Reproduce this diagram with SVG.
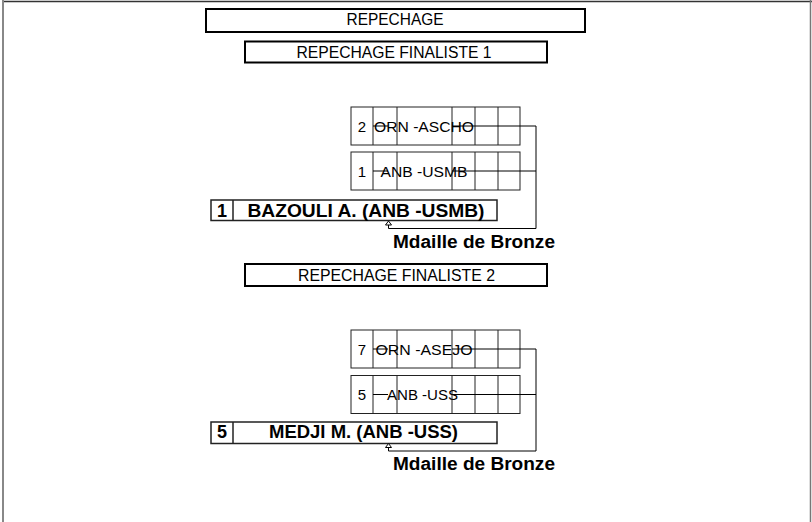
<svg xmlns="http://www.w3.org/2000/svg" width="812" height="522" viewBox="0 0 812 522">
<style>
  text { font-family: "Liberation Sans", Arial, sans-serif; fill: #000; }
  .t15 { font-size: 16px; }
  .t14 { font-size: 15px; }
  .b17 { font-size: 18px; font-weight: bold; }
  .hdr { fill: #fff; stroke: #000; stroke-width: 2; }
  .cell { fill: none; stroke: #222; stroke-width: 1; }
  .res { fill: #fff; stroke: #222; stroke-width: 1.5; }
  .conn { fill: none; stroke: #000; stroke-width: 1; }
  .arr { fill: #fff; stroke: #000; stroke-width: 1; }
</style>
<defs>
  <g id="grid">
    <rect class="cell" x="351" y="0" width="169" height="38"/>
    <line class="cell" x1="373" y1="0" x2="373" y2="38"/>
    <line class="cell" x1="397" y1="0" x2="397" y2="38"/>
    <line class="cell" x1="452" y1="0" x2="452" y2="38"/>
    <line class="cell" x1="475" y1="0" x2="475" y2="38"/>
    <line class="cell" x1="498" y1="0" x2="498" y2="38"/>
  </g>
</defs>
<rect x="0" y="0" width="812" height="522" fill="#fff"/>
<g id="frame">
  <line x1="2" y1="1.5" x2="812" y2="1.5" stroke="#333" stroke-width="1.5"/>
  <line x1="3" y1="0" x2="3" y2="522" stroke="#888" stroke-width="2"/>
  <line x1="810.5" y1="0" x2="810.5" y2="522" stroke="#777" stroke-width="1.5"/>
</g>
<g id="title">
  <rect class="hdr" x="206" y="9" width="379" height="23"/>
  <text class="t15" x="395" y="25" text-anchor="middle" textLength="97" lengthAdjust="spacingAndGlyphs">REPECHAGE</text>
</g>
<g id="header1">
  <rect class="hdr" x="245" y="41.5" width="302" height="21"/>
  <text class="t15" x="394" y="58" text-anchor="middle" textLength="195" lengthAdjust="spacingAndGlyphs">REPECHAGE FINALISTE 1</text>
</g>
<g id="f1-row1">
  <use href="#grid" y="107"/>
  <text class="t14" x="362" y="131.8" text-anchor="middle">2</text>
  <text class="t14" x="424" y="131.8" text-anchor="middle" textLength="100" lengthAdjust="spacingAndGlyphs">ORN -ASCHO</text>
</g>
<g id="f1-row2">
  <use href="#grid" y="152"/>
  <text class="t14" x="362" y="176.8" text-anchor="middle">1</text>
  <text class="t14" x="424" y="176.8" text-anchor="middle" textLength="87" lengthAdjust="spacingAndGlyphs">ANB -USMB</text>
</g>
<g id="f1-winner">
  <rect class="res" x="211" y="200" width="286" height="20.5"/>
  <line class="res" x1="233" y1="200" x2="233" y2="220.5"/>
  <text class="b17" x="222" y="216.5" text-anchor="middle">1</text>
  <text class="b17" x="366" y="216.5" text-anchor="middle" textLength="237" lengthAdjust="spacingAndGlyphs">BAZOULI A. (ANB -USMB)</text>
</g>
<g id="f1-medal">
  <text class="b17" x="474" y="247.5" text-anchor="middle" textLength="162" lengthAdjust="spacingAndGlyphs">Mdaille de Bronze</text>
</g>
<g id="header2">
  <rect class="hdr" x="245" y="264" width="302" height="22"/>
  <text class="t15" x="396.5" y="281" text-anchor="middle" textLength="197" lengthAdjust="spacingAndGlyphs">REPECHAGE FINALISTE 2</text>
</g>
<g id="f2-row1">
  <use href="#grid" y="330"/>
  <text class="t14" x="362" y="354.8" text-anchor="middle">7</text>
  <text class="t14" x="424" y="354.8" text-anchor="middle" textLength="97" lengthAdjust="spacingAndGlyphs">ORN -ASEJO</text>
</g>
<g id="f2-row2">
  <use href="#grid" y="375.5"/>
  <text class="t14" x="362" y="400" text-anchor="middle">5</text>
  <text class="t14" x="422.5" y="400" text-anchor="middle" textLength="71" lengthAdjust="spacingAndGlyphs">ANB -USS</text>
</g>
<g id="f2-winner">
  <rect class="res" x="211" y="422" width="286" height="21.5"/>
  <line class="res" x1="233" y1="422" x2="233" y2="443.5"/>
  <text class="b17" x="222" y="438.3" text-anchor="middle">5</text>
  <text class="b17" x="363.5" y="438.3" text-anchor="middle" textLength="189" lengthAdjust="spacingAndGlyphs">MEDJI M. (ANB -USS)</text>
</g>
<g id="f2-medal">
  <text class="b17" x="474" y="470.3" text-anchor="middle" textLength="162" lengthAdjust="spacingAndGlyphs">Mdaille de Bronze</text>
</g>
<g id="connectors">
  <line class="conn" x1="373" y1="126" x2="388" y2="126"/>
  <line class="conn" x1="452" y1="126" x2="536" y2="126"/>
  <line class="conn" x1="373" y1="171" x2="388" y2="171"/>
  <line class="conn" x1="452" y1="171" x2="536" y2="171"/>
  <polyline class="conn" points="536,126 536,228.5 388.5,228.5 388.5,225"/>
  <polygon class="arr" points="388.5,221 391.5,225 385.5,225"/>
  <line class="conn" x1="373" y1="349" x2="388" y2="349"/>
  <line class="conn" x1="452" y1="349" x2="536" y2="349"/>
  <line class="conn" x1="373" y1="394.5" x2="388" y2="394.5"/>
  <line class="conn" x1="452" y1="394.5" x2="536" y2="394.5"/>
  <polyline class="conn" points="536,349 536,451 388.5,451 388.5,447.5"/>
  <polygon class="arr" points="388.5,443.5 391.5,447.5 385.5,447.5"/>
</g>
</svg>
